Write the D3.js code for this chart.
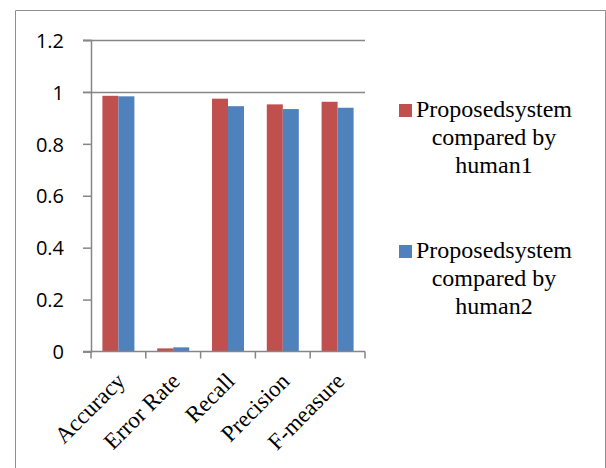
<!DOCTYPE html>
<html>
<head>
<meta charset="utf-8">
<script src="https://cdn.jsdelivr.net/npm/d3@7/dist/d3.min.js"></script>
<style>
html,body{margin:0;padding:0;background:#fff;}
svg{display:block;}
</style>
</head>
<body>
<svg id="chart" width="606" height="468"></svg>
<script>
const categories = ["Accuracy", "Error Rate", "Recall", "Precision", "F-measure"];
const seriesNames = ["Proposedsystem compared by human1", "Proposedsystem compared by human2"];
const human1 = [0.985, 0.012, 0.974, 0.952, 0.962];
const human2 = [0.983, 0.016, 0.945, 0.934, 0.939];
const yTicks = [0, 0.2, 0.4, 0.6, 0.8, 1, 1.2];
const gridValues = [1, 1.2];
const colors = ["#C0504D", "#4F81BD"];
const legendLines = [["Proposedsystem", "compared by", "human1"], ["Proposedsystem", "compared by", "human2"]];

const svg = d3.select("#chart");
const axisColor = "#868686";

// outer frame
svg.append("path")
  .attr("d", "M15.5,468 L15.5,10.5 L605.5,10.5 L605.5,468")
  .attr("fill", "none").attr("stroke", "#8f8f8f").attr("stroke-width", 1);

const plot = {left: 91, right: 365, top: 40, bottom: 351.5};

const y = d3.scaleLinear().domain([0, 1.2]).range([plot.bottom, plot.top]);
const x0 = d3.scaleBand().domain(categories).range([plot.left, plot.right])
  .paddingInner(0.416).paddingOuter(0.208);
const x1 = d3.scaleBand().domain([0, 1]).range([0, x0.bandwidth()]);

// gridlines
svg.append("g").selectAll("line").data(gridValues).join("line")
  .attr("x1", plot.left - 8).attr("x2", plot.right)
  .attr("y1", d => Math.round(y(d)) + 0.5).attr("y2", d => Math.round(y(d)) + 0.5)
  .attr("stroke", axisColor).attr("stroke-width", 1.5);

// bars
const data = categories.map((c, i) => ({cat: c, vals: [human1[i], human2[i]]}));
const groups = svg.append("g").selectAll("g").data(data).join("g")
  .attr("transform", d => `translate(${x0(d.cat)},0)`);
groups.selectAll("rect").data(d => d.vals.map((v, k) => ({v, k}))).join("rect")
  .attr("x", d => x1(d.k))
  .attr("width", x1.bandwidth())
  .attr("y", d => y(d.v))
  .attr("height", d => y(0) - y(d.v))
  .attr("fill", d => colors[d.k]);

// y axis
const yAxis = d3.axisLeft(y).tickValues(yTicks).tickSize(8).tickPadding(19)
  .tickFormat(d => d3.format("")(d));
const gy = svg.append("g").attr("transform", `translate(${plot.left},0)`).call(yAxis);
gy.select(".domain").attr("stroke", axisColor).attr("stroke-width", 1.5);
gy.selectAll(".tick line").attr("stroke", axisColor).attr("stroke-width", 1.5);
gy.selectAll(".tick text").attr("font-family", "'Open Sans', sans-serif")
  .attr("font-size", 20).attr("fill", "#000").attr("dy", "0.36em");

// x axis
const gx = svg.append("g").attr("transform", `translate(0,${plot.bottom})`);
gx.append("line").attr("x1", plot.left - 8).attr("x2", plot.right)
  .attr("y1", 0).attr("y2", 0).attr("stroke", axisColor).attr("stroke-width", 1.5);
const boundaries = categories.map(c => x0(c) - x0.step() * x0.paddingInner() / 2).concat([plot.right]);
gx.selectAll("line.tk").data(boundaries).join("line").attr("class", "tk")
  .attr("x1", d => d).attr("x2", d => d).attr("y1", 0).attr("y2", 7)
  .attr("stroke", axisColor).attr("stroke-width", 1.5);
gx.selectAll("text").data(categories).join("text")
  .attr("transform", d => `translate(${x0(d) + x0.bandwidth() / 2 + 8},${31}) rotate(-45)`)
  .attr("text-anchor", "end")
  .attr("font-family", "'Liberation Serif', 'Times New Roman', serif")
  .attr("font-size", 23).attr("fill", "#000")
  .text(d => d);

// legend
const legendTop = [117, 258];
const leg = svg.append("g");
legendLines.forEach((lines, k) => {
  const g = leg.append("g");
  g.append("rect").attr("x", 399).attr("y", legendTop[k] - 13)
    .attr("width", 13).attr("height", 13).attr("fill", colors[k]);
  g.selectAll("text").data(lines).join("text")
    .attr("x", 494).attr("y", (d, i) => legendTop[k] + i * 28)
    .attr("text-anchor", "middle")
    .attr("font-family", "'Liberation Serif', 'Times New Roman', serif")
    .attr("font-size", 24).attr("fill", "#000")
    .text(d => d);
});
</script>
</body>
</html>
